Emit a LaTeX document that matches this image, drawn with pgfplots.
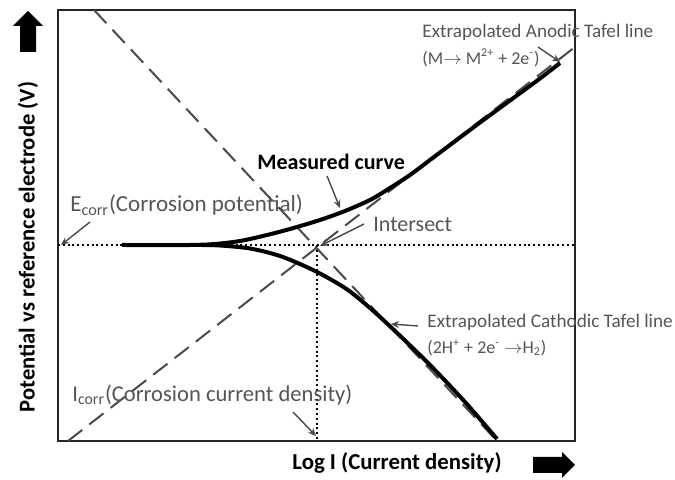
\documentclass[border=0pt]{standalone}
\usepackage{fontspec}
\setmainfont{Carlito}
\usepackage{pgfplots}
\pgfplotsset{compat=1.18}
\usetikzlibrary{arrows.meta}
\definecolor{dgray}{HTML}{4A4A4A}
\definecolor{tgray}{HTML}{555555}

\pgfplotstableread{
x y
122 235
190 235
215 236
240 239
265 244.5
290 251
320 260
345 269
370 280
390 292
410 305
430 320
450 335
480 357.5
510 379.5
540 401.5
560 417
}\anodic

\pgfplotstableread{
x y
200 235
220 234.5
250 231.5
280 224
313 210
345 192
370 172
395 149
430 115
465 78
497 41
}\cathodic

\begin{document}
\begin{tikzpicture}
\begin{axis}[
  width=258.5pt, height=215.5pt, scale only axis,
  xmin=58, xmax=575, ymin=39, ymax=470,
  xtick=\empty, ytick=\empty,
  axis line style={line width=1pt, color=black!85},
  clip=false,
]
% Tafel extrapolation lines
\addplot[dgray, line width=1pt, dash pattern=on 9pt off 4.5pt] coordinates {(94,470) (497,39)};
\addplot[dgray, line width=1pt, dash pattern=on 9pt off 4.5pt] coordinates {(68,39) (575,433)};
% Ecorr and Icorr dotted lines
\addplot[black, line width=1pt, dash pattern=on 1pt off 1.4pt] coordinates {(58,235) (575,235)};
\addplot[black, line width=1pt, dash pattern=on 1pt off 1.4pt] coordinates {(317,235) (317,39)};
% measured curve
\addplot[black, line width=2pt, smooth, tension=0.5] table {\anodic};
\addplot[black, line width=2pt, smooth, tension=0.5] table {\cathodic};

% annotation arrows
\draw[dgray, line width=0.7pt, -{Stealth[length=4pt,width=3.5pt]}] (axis cs:327,304) -- (axis cs:340,272);
\draw[dgray, line width=0.7pt, -{Stealth[length=4pt,width=3.5pt]}] (axis cs:90,258) -- (axis cs:61,235);
\draw[dgray, line width=0.7pt, -{Stealth[length=4pt,width=3.5pt]}] (axis cs:364,256) -- (axis cs:320,234);
\draw[dgray, line width=0.7pt, -{Stealth[length=4pt,width=3.5pt]}] (axis cs:538,433) -- (axis cs:560,418);
\draw[dgray, line width=0.7pt, -{Stealth[length=4pt,width=3.5pt]}] (axis cs:418,154) -- (axis cs:391,156);
\draw[dgray, line width=0.7pt, -{Stealth[length=4pt,width=3.5pt]}] (axis cs:293,68) -- (axis cs:316,44);

% labels
\node[anchor=west, inner sep=0, font=\fontsize{11}{13}\selectfont\bfseries] at (axis cs:257,318) {Measured curve};
\node[anchor=west, inner sep=0, text=tgray, font=\fontsize{11.5}{13}\selectfont] at (axis cs:70,275) {E\textsubscript{corr}(Corrosion potential)};
\node[anchor=west, inner sep=0, text=tgray, font=\fontsize{11}{13}\selectfont] at (axis cs:373,255) {Intersect};
\node[anchor=west, inner sep=0, text=tgray, font=\fontsize{9.6}{11}\selectfont] at (axis cs:422,448) {Extrapolated Anodic Tafel line};
\node[anchor=west, inner sep=0, text=tgray, font=\fontsize{9}{11}\selectfont] at (axis cs:422,422) {(M$\rightarrow$ M\textsuperscript{2+} + 2e\textsuperscript{-})};
\node[anchor=west, inner sep=0, text=tgray, font=\fontsize{9.6}{11}\selectfont] at (axis cs:427,158) {Extrapolated Cathodic Tafel line};
\node[anchor=west, inner sep=0, text=tgray, font=\fontsize{9}{11}\selectfont] at (axis cs:427,132) {(2H\textsuperscript{+} + 2e\textsuperscript{-} $\rightarrow$H\textsubscript{2})};
\node[anchor=west, inner sep=0, text=tgray, font=\fontsize{11.3}{13}\selectfont] at (axis cs:72,85) {I\textsubscript{corr}(Corrosion current density)};

% axis titles
\node[rotate=90, inner sep=0, font=\fontsize{11.3}{13}\selectfont\bfseries] at (axis cs:28,233) {Potential vs reference electrode (V)};
\node[inner sep=0, font=\fontsize{11.4}{13}\selectfont\bfseries] at (axis cs:397,17) {Log I (Current density)};

% big direction arrows
\fill[black] (axis cs:28,469) -- (axis cs:43,454) -- (axis cs:36,454) -- (axis cs:36,428) -- (axis cs:20,428) -- (axis cs:20,454) -- (axis cs:13,454) -- cycle;
\fill[black] (axis cs:533,23) -- (axis cs:562,23) -- (axis cs:562,28) -- (axis cs:575,15) -- (axis cs:562,2) -- (axis cs:562,7) -- (axis cs:533,7) -- cycle;

\coordinate (BL) at (axis cs:0,0);
\coordinate (TR) at (axis cs:675,480);
\end{axis}
\pgfresetboundingbox
\path[use as bounding box] (BL) rectangle (TR);
\end{tikzpicture}
\end{document}
